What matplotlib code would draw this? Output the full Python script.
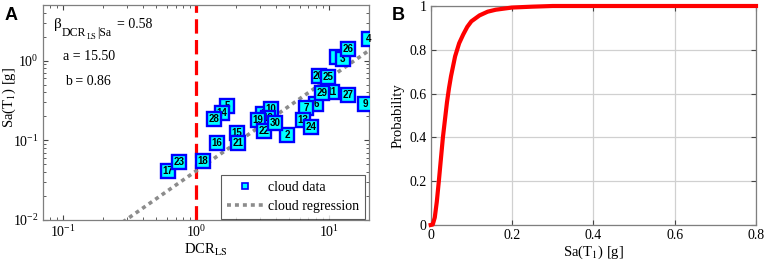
"""Cloud analysis scatter (A) and resulting fragility curve (B)."""

import matplotlib

matplotlib.use("Agg")
import matplotlib.pyplot as plt
from matplotlib.lines import Line2D
from matplotlib.ticker import LogLocator, NullFormatter

plt.rcParams["font.family"] = ["Liberation Serif", "DejaVu Serif"]
plt.rcParams["mathtext.fontset"] = "stix"

# cloud data: record id, demand-to-capacity ratio, spectral acceleration
record_ids = list(range(1, 31))
dcr_ls = [11.5, 4.84, 12.7, 19.9, 1.72, 8.02, 6.75, 3.21, 18.7, 3.65,
          10.5, 3.45, 6.37, 1.56, 2.02, 1.43, 0.611, 1.12, 2.93, 8.34,
          2.05, 3.25, 0.742, 7.36, 9.82, 14.0, 14.0, 1.37, 8.85, 3.91]
sa_t1 = [1.12, 0.116, 1.05, 1.89, 0.266, 0.288, 0.254, 0.215, 0.288, 0.244,
         0.399, 0.19, 0.181, 0.220, 0.125, 0.0938, 0.0417, 0.0552, 0.181, 0.635,
         0.0938, 0.132, 0.0532, 0.145, 0.617, 1.416, 0.366, 0.186, 0.393, 0.163]

# regression line end points
reg_dcr = [0.28, 20.0]
reg_sa = [0.0094, 1.345]

beta_text = 0.58
a_text = 15.50
b_text = 0.86

# fragility curve
frag_sa = [0, 0.005, 0.01, 0.015, 0.02, 0.025, 0.03, 0.035, 0.04, 0.045, 0.05,
           0.06, 0.07, 0.08, 0.09, 0.10, 0.12, 0.14, 0.16, 0.20, 0.25, 0.30, 0.80]
frag_prob = [0, 0.002, 0.034, 0.106, 0.20, 0.30, 0.40, 0.48, 0.56, 0.625, 0.68,
             0.77, 0.83, 0.87, 0.905, 0.93, 0.957, 0.974, 0.983, 0.993, 0.997, 1.0, 1.0]

W, H = 765, 263
SPINE = "#7f7f7f"
REG_GRAY = "#8c8c8c"


def px_text(fig, x, y, s, size):
    """Put a text with its baseline at pixel (x, y) from the top-left corner."""
    fig.text(x / W, 1 - y / H, s, fontsize=size, ha="left", va="baseline")


fig = plt.figure(figsize=(W / 100, H / 100), dpi=100)
ax_a = fig.add_axes([42.7 / W, (H - 220) / H, 326.3 / W, 215 / H])
ax_b = fig.add_axes([430.7 / W, (H - 225) / H, 325.3 / W, 219 / H])

# ---- panel A
ax_a.set_xscale("log")
ax_a.set_yscale("log")
ax_a.set_xlim(0.07, 20)
ax_a.set_ylim(0.01, 5)

ax_a.axvline(1.0, color="red", lw=2.3, dashes=(4.5, 2), zorder=2)
ax_a.plot(reg_dcr, reg_sa, color=REG_GRAY, lw=2.6, dashes=(1.1, 1.1),
          dash_capstyle="butt", zorder=2.5)

for i, (rid, x, y) in enumerate(zip(record_ids, dcr_ls, sa_t1)):
    z = 3 + i * 0.01
    ax_a.plot(x, y, marker="s", ms=10, mfc="cyan", mec="blue", mew=1.7,
              ls="none", zorder=z)
    ax_a.text(x, y, str(rid), ha="center", va="center", fontsize=7,
              fontweight="bold", family="Liberation Sans", zorder=z + 0.005)

# beta_DCR_LS|Sa built from pieces so the subscripts keep the original sizes
px_text(fig, 54, 28.3, "\u03b2", 11)
px_text(fig, 61.7, 35.7, "DCR", 8.5)
px_text(fig, 86.7, 39.3, "LS", 6)
px_text(fig, 97.3, 35.7, "|Sa", 8.5)
px_text(fig, 117.3, 28.3, f"= {beta_text:.2f}", 10)
px_text(fig, 63.3, 60, f"a = {a_text:.2f}", 10)
px_text(fig, 65, 85, f"b = {b_text:.2f}", 10)

ax_a.set_xlabel(r"DCR$_{\mathrm{LS}}$", fontsize=10.5, labelpad=1)
ax_a.set_ylabel(r"Sa(T$_1$) [g]", fontsize=10.5)
ax_a.yaxis.set_label_coords(-0.076, 0.57)
ax_a.xaxis.set_minor_locator(LogLocator(base=10, subs=range(2, 10)))
ax_a.yaxis.set_minor_locator(LogLocator(base=10, subs=range(2, 10)))
ax_a.xaxis.set_minor_formatter(NullFormatter())
ax_a.yaxis.set_minor_formatter(NullFormatter())

handles = [
    Line2D([], [], marker="s", ms=4.5, mfc="cyan", mec="blue", mew=1.2, ls="none"),
    Line2D([], [], color=REG_GRAY, lw=2.6, dashes=(1.1, 1.1), dash_capstyle="butt"),
]
leg = ax_a.legend(handles, ["cloud data", "cloud regression"], loc="lower right",
                  bbox_to_anchor=((365 - 42.7) / 326.3, 1 / 215),
                  fontsize=10, frameon=True, fancybox=False, handlelength=2.6,
                  borderaxespad=0, borderpad=0.45, labelspacing=0.4, handletextpad=0.3)
leg.get_frame().set_edgecolor("#333333")
leg.get_frame().set_linewidth(0.8)
leg.set_zorder(10)

# ---- panel B
ax_b.plot(frag_sa, frag_prob, color="red", lw=3, clip_on=False, zorder=3)
ax_b.set_xlim(0, 0.8)
ax_b.set_ylim(0, 1)
ax_b.set_xticks([0, 0.2, 0.4, 0.6, 0.8])
ax_b.set_xticklabels(["0", "0.2", "0.4", "0.6", "0.8"])
ax_b.set_yticks([0, 0.2, 0.4, 0.6, 0.8, 1.0])
ax_b.set_yticklabels(["0", "0.2", "0.4", "0.6", "0.8", "1"])
ax_b.grid(True, color="#d0d0d0", lw=0.9)
ax_b.set_axisbelow(True)
ax_b.set_xlabel(r"Sa(T$_1$) [g]", fontsize=10.5, labelpad=1)
ax_b.set_ylabel("Probability", fontsize=10.5)
ax_b.yaxis.set_label_coords(-0.079, 0.5)

for ax in (ax_a, ax_b):
    for sp in ax.spines.values():
        sp.set_color(SPINE)
        sp.set_linewidth(0.9)
    ax.tick_params(which="both", direction="in", top=True, right=True,
                   color="#444444", labelsize=10, pad=3)
    ax.tick_params(which="major", length=3.5)
    ax.tick_params(which="minor", length=2)

fig.text(5 / W, 1 - 20 / H, "A", fontsize=13, fontweight="bold", family="Liberation Sans")
fig.text(392 / W, 1 - 20 / H, "B", fontsize=13, fontweight="bold", family="Liberation Sans")

fig.savefig("out.png", dpi=100)
